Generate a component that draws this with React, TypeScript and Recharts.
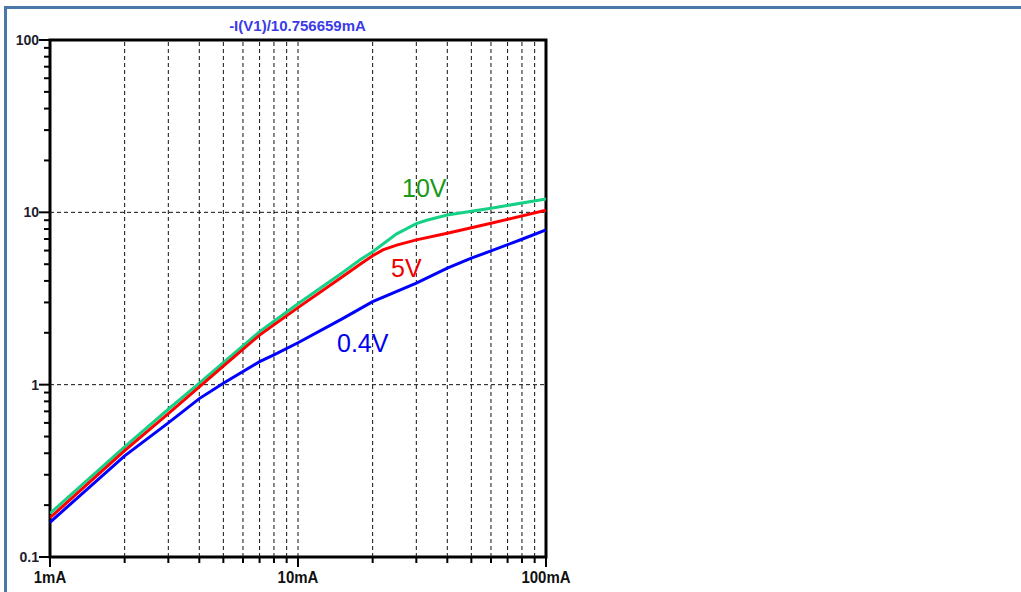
import React from 'react';
import { LineChart, Line, XAxis, YAxis, ReferenceLine, ReferenceArea } from 'recharts';

// Current (mA) vs -I(V1)/10.756659mA, three supply voltages
const green10V = [
  { x: 1, y: 0.179 }, { x: 2, y: 0.436 }, { x: 3, y: 0.72 }, { x: 4, y: 1.02 },
  { x: 5, y: 1.34 }, { x: 7, y: 2.03 }, { x: 10, y: 2.95 }, { x: 15, y: 4.43 },
  { x: 17.8, y: 5.3 }, { x: 20, y: 5.9 }, { x: 25, y: 7.5 }, { x: 30, y: 8.6 },
  { x: 33, y: 9.0 }, { x: 40, y: 9.66 }, { x: 60, y: 10.56 }, { x: 100, y: 11.96 },
];
const red5V = [
  { x: 1, y: 0.169 }, { x: 2, y: 0.414 }, { x: 3, y: 0.68 }, { x: 4, y: 0.97 },
  { x: 5, y: 1.28 }, { x: 7, y: 1.94 }, { x: 10, y: 2.8 }, { x: 15, y: 4.2 },
  { x: 17.8, y: 5.0 }, { x: 20, y: 5.6 }, { x: 22, y: 6.05 }, { x: 25, y: 6.45 },
  { x: 30, y: 6.92 }, { x: 40, y: 7.57 }, { x: 60, y: 8.64 }, { x: 100, y: 10.3 },
];
const blue04V = [
  { x: 1, y: 0.159 }, { x: 2, y: 0.386 }, { x: 3, y: 0.6 }, { x: 4, y: 0.83 },
  { x: 5, y: 1.02 }, { x: 7, y: 1.36 }, { x: 8, y: 1.49 }, { x: 10, y: 1.75 },
  { x: 15, y: 2.4 }, { x: 20, y: 3.03 }, { x: 30, y: 3.88 }, { x: 40, y: 4.74 },
  { x: 50, y: 5.42 }, { x: 60, y: 5.97 }, { x: 80, y: 6.98 }, { x: 100, y: 7.9 },
];

const xTicks = [1, 2, 3, 4, 5, 6, 7, 8, 9, 10, 20, 30, 40, 50, 60, 70, 80, 90, 100];
const xMajor = [1, 10, 100];
const xMajorLabels = ['1mA', '10mA', '100mA'];
const xGrid = [2, 3, 4, 5, 6, 7, 8, 9, 10, 20, 30, 40, 50, 60, 70, 80, 90];

const yTicks = [
  0.1, 0.2, 0.3, 0.4, 0.5, 0.6, 0.7, 0.8, 0.9,
  1, 2, 3, 4, 5, 6, 7, 8, 9,
  10, 20, 30, 40, 50, 60, 70, 80, 90, 100,
];
const yMajor = [0.1, 1, 10, 100];
const yMajorLabels = ['0.1', '1', '10', '100'];
const yGrid = [1, 10];

const titleText = '-I(V1)/10.756659mA';
const seriesLabels = ['10V', '5V', '0.4V'];

const FONT = '"Liberation Sans", Arial, sans-serif';

const XTick = (props: any) => {
  const { x, y, payload } = props;
  const v = payload.value;
  const idx = xMajor.indexOf(v);
  const major = idx >= 0;
  return (
    <g>
      <line x1={x} x2={x} y1={y} y2={y + (major ? 10 : 6)} stroke="#000" strokeWidth={2} />
      {major && (
        <text
          x={x} y={y + 26} textAnchor="middle" fontSize={15} fontWeight="bold" fill="#111" fontFamily={FONT}
          transform={`translate(0 ${-(y + 26) * 0.12}) scale(1 1.12)`}
        >
          {xMajorLabels[idx]}
        </text>
      )}
    </g>
  );
};

const YTick = (props: any) => {
  const { x, y, payload } = props;
  const v = payload.value;
  const idx = yMajor.indexOf(v);
  const major = idx >= 0;
  return (
    <g>
      <line x1={x - (major ? 11 : 6)} x2={x} y1={y} y2={y} stroke="#000" strokeWidth={2} />
      {major && (
        <text x={x - 11} y={y + 5} textAnchor="end" fontSize={14} fontWeight="bold" fill="#1e1e30" fontFamily={FONT}>
          {yMajorLabels[idx]}
        </text>
      )}
    </g>
  );
};

export default function App() {
  return (
    <div style={{ position: 'absolute', left: 0, top: 0, width: 1021, height: 592, background: '#fff', overflow: 'hidden' }}>
      <div
        style={{
          position: 'absolute', left: 4, top: 6, width: 1017, height: 586, boxSizing: 'border-box',
          borderTop: '3px solid #4a79a9', borderLeft: '3px solid #4a79a9',
        }}
      />
      <div style={{ position: 'absolute', left: 0, top: 0 }}>
        <LineChart width={1021} height={592} margin={{ top: 40, right: 475, bottom: 0, left: 0 }}>
          <XAxis
            dataKey="x" type="number" scale="log" domain={[1, 100]} allowDataOverflow
            ticks={xTicks} interval={0} tick={<XTick />} tickLine={false} axisLine={false}
            tickSize={0} tickMargin={0} height={35}
          />
          <YAxis
            dataKey="y" type="number" scale="log" domain={[0.1, 100]} allowDataOverflow
            ticks={yTicks} interval={0} tick={<YTick />} tickLine={false} axisLine={false}
            tickSize={0} tickMargin={0} width={50}
          />
          {xGrid.map((v) => (
            <ReferenceLine key={'gx' + v} x={v} stroke="#111" strokeWidth={1} strokeDasharray="4 3" />
          ))}
          {yGrid.map((v) => (
            <ReferenceLine key={'gy' + v} y={v} stroke="#111" strokeWidth={1} strokeDasharray="4 3" />
          ))}
          <Line data={green10V} dataKey="y" type="linear" stroke="#14d185" strokeWidth={3} dot={false} isAnimationActive={false} />
          <Line data={red5V} dataKey="y" type="linear" stroke="#ff0000" strokeWidth={3} dot={false} isAnimationActive={false} />
          <Line data={blue04V} dataKey="y" type="linear" stroke="#0000ff" strokeWidth={3} dot={false} isAnimationActive={false} />
          <ReferenceArea x1={1} x2={100} y1={0.1} y2={100} fill="none" fillOpacity={0} stroke="#000" strokeWidth={3} ifOverflow="visible" />
        </LineChart>
      </div>
      <svg width={1021} height={592} style={{ position: 'absolute', left: 0, top: 0, pointerEvents: 'none' }}>
        <text x={297.5} y={31} textAnchor="middle" fontSize={15} fontWeight="bold" fill="#3b3be8" fontFamily={FONT}>
          {titleText}
        </text>
        <text x={402} y={197} fontSize={25} fill="#169a16" fontFamily={FONT}>{seriesLabels[0]}</text>
        <text x={391} y={277} fontSize={25} fill="#f00000" fontFamily={FONT}>{seriesLabels[1]}</text>
        <text x={337} y={352} fontSize={25} fill="#0000ee" fontFamily={FONT}>{seriesLabels[2]}</text>
      </svg>
    </div>
  );
}
